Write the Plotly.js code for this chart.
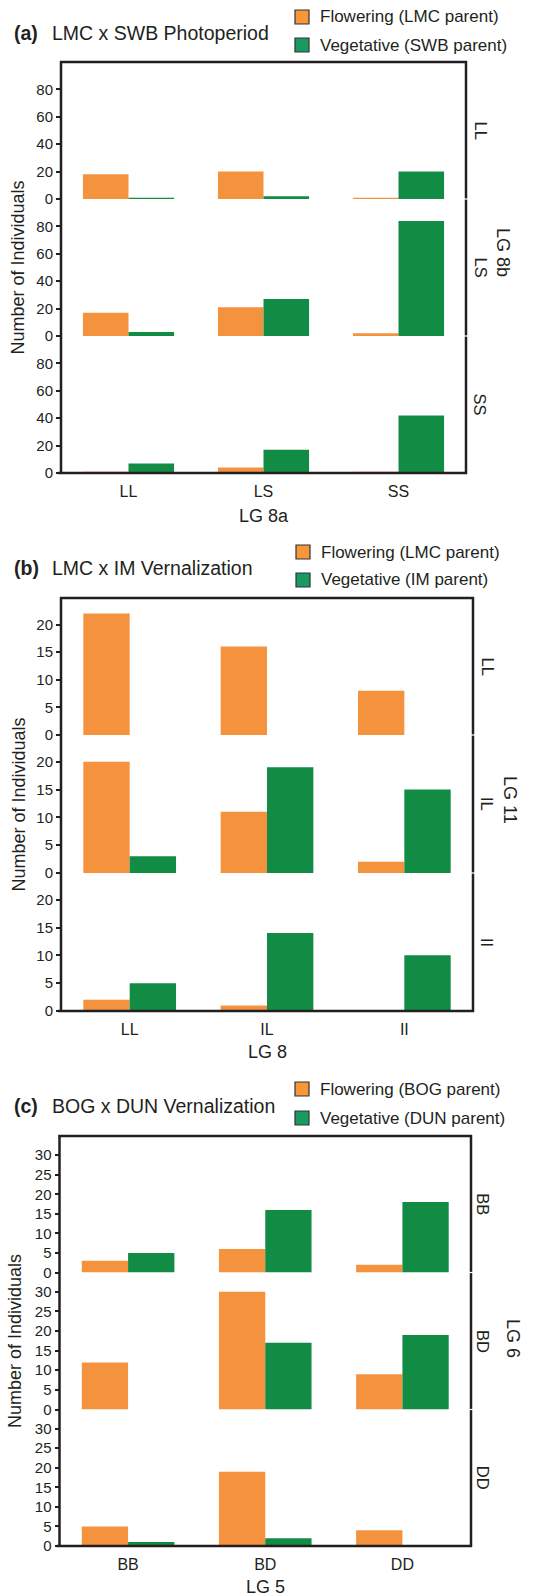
<!DOCTYPE html>
<html>
<head>
<meta charset="utf-8">
<script src="https://cdn.plot.ly/plotly-3.0.1.min.js"></script>
<style>
html,body{margin:0;padding:0;background:#fff;}
#chart{width:533px;height:1596px;}
</style>
</head>
<body>
<div id="chart"></div>
<script>
// ---------------- DATA ----------------
const panelLetters = ['(a)', '(b)', '(c)'];
const panelTitles = ['LMC x SWB Photoperiod', 'LMC x IM Vernalization', 'BOG x DUN Vernalization'];
const flowerNames = ['Flowering (LMC parent)', 'Flowering (LMC parent)', 'Flowering (BOG parent)'];
const vegNames = ['Vegetative (SWB parent)', 'Vegetative (IM parent)', 'Vegetative (DUN parent)'];
const xTitles = ['LG 8a', 'LG 8', 'LG 5'];
const stripTitles = ['LG 8b', 'LG 11', 'LG 6'];

const catsA = ['LL', 'LS', 'SS'];
const rowsA = ['LL', 'LS', 'SS'];
const flowerA_LL = [18, 20, 1];
const vegA_LL = [1, 2, 20];
const flowerA_LS = [17, 21, 2];
const vegA_LS = [3, 27, 84];
const flowerA_SS = [1, 4, 1];
const vegA_SS = [7, 17, 42];
const ticksA = [0, 20, 40, 60, 80];

const catsB = ['LL', 'IL', 'II'];
const rowsB = ['LL', 'IL', 'II'];
const flowerB_LL = [22, 16, 8];
const vegB_LL = [0, 0, 0];
const flowerB_IL = [20, 11, 2];
const vegB_IL = [3, 19, 15];
const flowerB_II = [2, 1, 0];
const vegB_II = [5, 14, 10];
const ticksB = [0, 5, 10, 15, 20];

const catsC = ['BB', 'BD', 'DD'];
const rowsC = ['BB', 'BD', 'DD'];
const flowerC_BB = [3, 6, 2];
const vegC_BB = [5, 16, 18];
const flowerC_BD = [12, 30, 9];
const vegC_BD = [0, 17, 19];
const flowerC_DD = [5, 19, 4];
const vegC_DD = [1, 2, 0];
const ticksC = [0, 5, 10, 15, 20, 25, 30];

// ---------------- STYLE / LAYOUT ----------------
const W = 533, H = 1596;
const FONT = 'Liberation Sans, Arial, Helvetica, sans-serif';
const INK = '#231f20';
const ORANGE = '#f5923e';
const GREEN = '#128c45';
const LEG_ORANGE = '#f7973a';
const LEG_GREEN = '#1a9a60';
const fx = p => p / W;
const fy = p => 1 - p / H;

const panels = [
  {cats: catsA, rows: rowsA, flower: [flowerA_LL, flowerA_LS, flowerA_SS], veg: [vegA_LL, vegA_LS, vegA_SS],
   ticks: ticksA, ymax: 100, left: 61, right: 466, rowEdges: [62, 199, 336, 473],
   titleY: 33, legY: [17, 45], legX: 295, yTitleX: 18, xTitleY: 516, stripX: 480, outerX: 503, outerY: 252},
  {cats: catsB, rows: rowsB, flower: [flowerB_LL, flowerB_IL, flowerB_II], veg: [vegB_LL, vegB_IL, vegB_II],
   ticks: ticksB, ymax: 24.8, left: 61, right: 473, rowEdges: [598, 735, 873, 1011],
   titleY: 568, legY: [552, 580], legX: 296, yTitleX: 18, xTitleY: 1052, stripX: 487, outerX: 510, outerY: 800},
  {cats: catsC, rows: rowsC, flower: [flowerC_BB, flowerC_BD, flowerC_DD], veg: [vegC_BB, vegC_BD, vegC_DD],
   ticks: ticksC, ymax: 34.9, left: 59.5, right: 471, rowEdges: [1136, 1272.5, 1409.5, 1546],
   titleY: 1106, legY: [1089, 1118], legX: 295, yTitleX: 15, xTitleY: 1587, stripX: 483, outerX: 513, outerY: 1338}
];

const traces = [];
const layout = {
  width: W, height: H,
  margin: {l: 0, r: 0, t: 0, b: 0},
  paper_bgcolor: '#fff', plot_bgcolor: 'rgba(0,0,0,0)',
  showlegend: false,
  barmode: 'group', bargap: 0.325, bargroupgap: 0,
  font: {family: FONT, color: INK},
  shapes: [], annotations: []
};

panels.forEach((p, pi) => {
  const xName = pi === 0 ? 'x' : 'x' + (pi + 1);
  const xKey = pi === 0 ? 'xaxis' : 'xaxis' + (pi + 1);
  const bottomY = 3 * pi + 3;
  layout[xKey] = {
    domain: [fx(p.left), fx(p.right)],
    anchor: 'y' + (bottomY === 1 ? '' : bottomY),
    type: 'category', range: [-0.5, 2.5], fixedrange: true,
    showgrid: false, zeroline: false, showline: false,
    ticks: 'outside', ticklen: 4, tickcolor: 'rgba(0,0,0,0)',
    tickfont: {size: 16, family: FONT, color: INK},
    categoryorder: 'array', categoryarray: p.cats
  };
  for (let r = 0; r < 3; r++) {
    const yi = 3 * pi + r + 1;
    const yName = yi === 1 ? 'y' : 'y' + yi;
    const yKey = yi === 1 ? 'yaxis' : 'yaxis' + yi;
    const top = p.rowEdges[r], bot = p.rowEdges[r + 1];
    layout[yKey] = {
      domain: [fy(bot), fy(top)],
      anchor: xName,
      range: [0, p.ymax], fixedrange: true,
      tickmode: 'array', tickvals: p.ticks,
      ticks: 'outside', ticklen: 4, tickwidth: 2, tickcolor: INK,
      tickfont: {size: 15, family: FONT, color: INK},
      showgrid: false, zeroline: false, showline: false
    };
    traces.push({
      type: 'bar', x: p.cats, y: p.flower[r], name: flowerNames[pi],
      xaxis: xName, yaxis: yName, marker: {color: ORANGE, line: {width: 0}},
      hoverinfo: 'x+y+name'
    });
    traces.push({
      type: 'bar', x: p.cats, y: p.veg[r], name: vegNames[pi],
      xaxis: xName, yaxis: yName, marker: {color: GREEN, line: {width: 0}},
      hoverinfo: 'x+y+name'
    });
    // right edge segment per row (small gap at row boundaries)
    layout.shapes.push({type: 'line', xref: 'paper', yref: 'paper', layer: 'above',
      x0: fx(p.right), x1: fx(p.right), y0: fy(top + (r === 0 ? -1 : 0.6)), y1: fy(bot - (r === 2 ? -1 : 0.6)),
      line: {color: INK, width: 2.5}});
    // row strip label
    layout.annotations.push({xref: 'paper', yref: 'paper', x: fx(p.stripX), y: fy((top + bot) / 2),
      text: p.rows[r], showarrow: false, textangle: 90, xanchor: 'center', yanchor: 'middle',
      font: {size: 16.5, family: FONT, color: INK}});
  }
  const T = p.rowEdges[0], B = p.rowEdges[3];
  // frame: left, top, bottom
  layout.shapes.push({type: 'line', xref: 'paper', yref: 'paper', layer: 'above',
    x0: fx(p.left), x1: fx(p.left), y0: fy(T - 1), y1: fy(B + 1), line: {color: INK, width: 2.5}});
  layout.shapes.push({type: 'line', xref: 'paper', yref: 'paper', layer: 'above',
    x0: fx(p.left - 1), x1: fx(p.right + 1), y0: fy(T), y1: fy(T), line: {color: INK, width: 2.5}});
  layout.shapes.push({type: 'line', xref: 'paper', yref: 'paper', layer: 'above',
    x0: fx(p.left - 3), x1: fx(p.right + 1), y0: fy(B), y1: fy(B), line: {color: INK, width: 2.5}});

  // panel title
  layout.annotations.push({xref: 'paper', yref: 'paper', x: fx(12), y: fy(p.titleY),
    text: '<b>' + panelLetters[pi] + '</b>', showarrow: false, xanchor: 'left', yanchor: 'middle',
    font: {size: 19.5, family: FONT, color: INK}});
  layout.annotations.push({xref: 'paper', yref: 'paper', x: fx(50), y: fy(p.titleY),
    text: panelTitles[pi], showarrow: false, xanchor: 'left', yanchor: 'middle',
    font: {size: 19.5, family: FONT, color: INK}});
  // legend
  [[LEG_ORANGE, flowerNames[pi]], [LEG_GREEN, vegNames[pi]]].forEach((it, li) => {
    const cy = p.legY[li];
    layout.shapes.push({type: 'rect', xref: 'paper', yref: 'paper', layer: 'above',
      x0: fx(p.legX), x1: fx(p.legX + 14), y0: fy(cy - 7), y1: fy(cy + 7),
      fillcolor: it[0], line: {color: '#333', width: 1.2}});
    layout.annotations.push({xref: 'paper', yref: 'paper', x: fx(p.legX + 23), y: fy(cy),
      text: it[1], showarrow: false, xanchor: 'left', yanchor: 'middle',
      font: {size: 17, family: FONT, color: INK}});
  });
  // y title
  layout.annotations.push({xref: 'paper', yref: 'paper', x: fx(p.yTitleX), y: fy((T + B) / 2),
    text: 'Number of Individuals', showarrow: false, textangle: -90, xanchor: 'center', yanchor: 'middle',
    font: {size: 18, family: FONT, color: INK}});
  // x title
  layout.annotations.push({xref: 'paper', yref: 'paper', x: fx((p.left + p.right) / 2), y: fy(p.xTitleY),
    text: xTitles[pi], showarrow: false, xanchor: 'center', yanchor: 'middle',
    font: {size: 18, family: FONT, color: INK}});
  // outer strip title
  layout.annotations.push({xref: 'paper', yref: 'paper', x: fx(p.outerX), y: fy(p.outerY),
    text: stripTitles[pi], showarrow: false, textangle: 90, xanchor: 'center', yanchor: 'middle',
    font: {size: 18, family: FONT, color: INK}});
});

Plotly.newPlot('chart', traces, layout, {displayModeBar: false, staticPlot: true});
</script>
</body>
</html>
